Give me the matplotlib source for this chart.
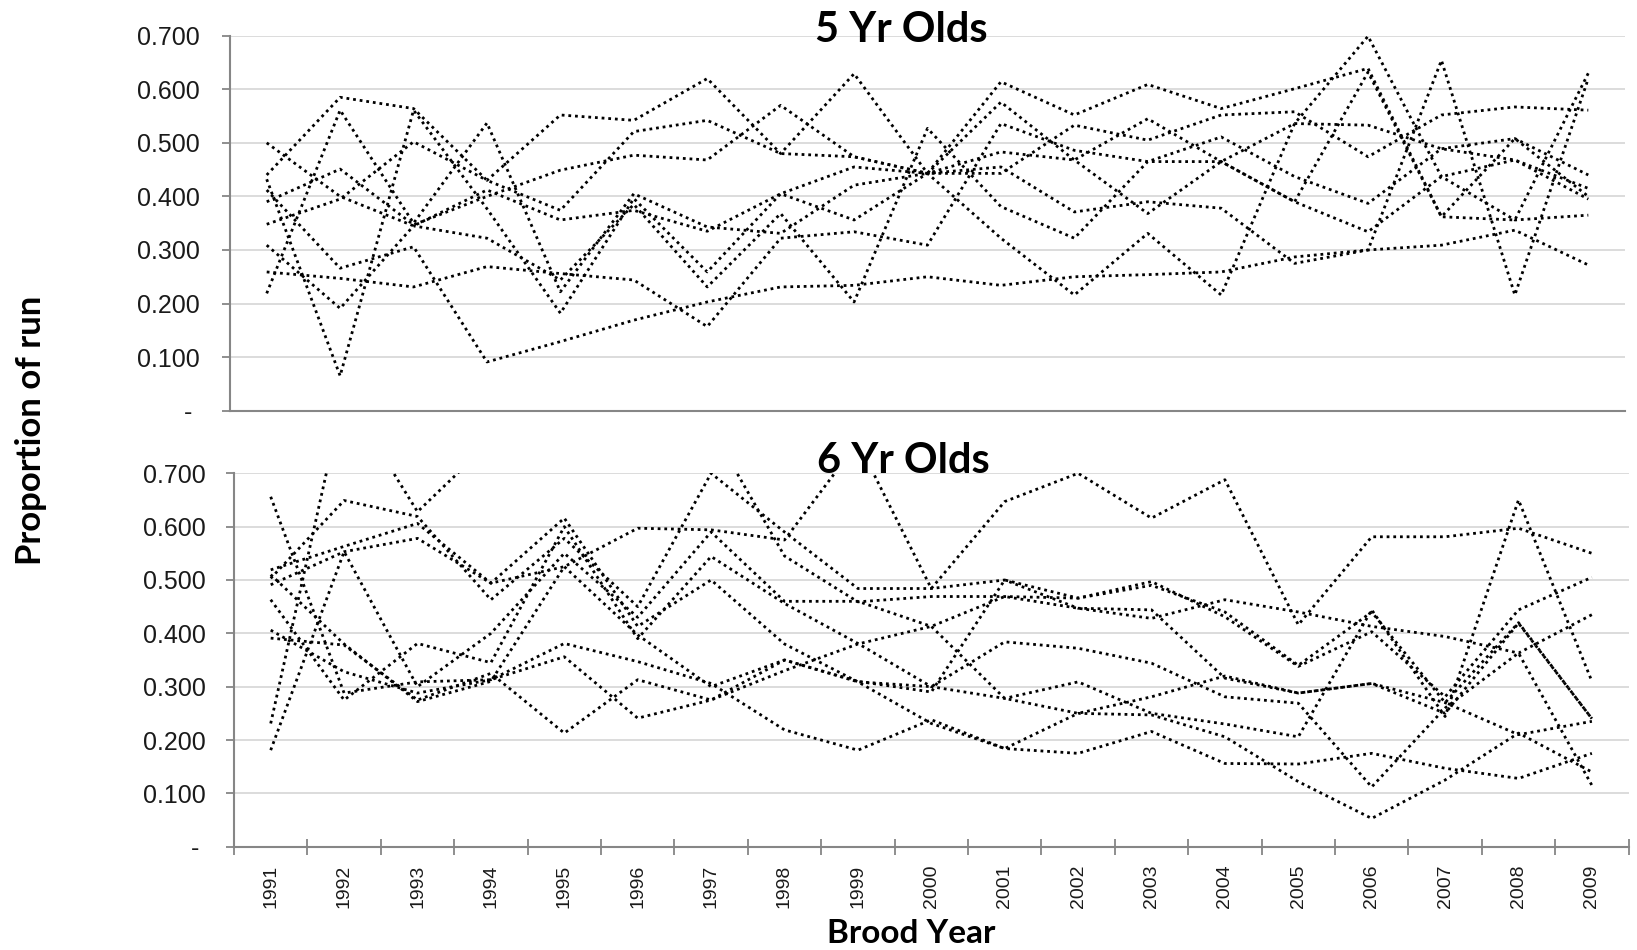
import numpy as np
import matplotlib
matplotlib.use("Agg")
import matplotlib.pyplot as plt
from matplotlib.ticker import FuncFormatter, FixedLocator

plt.rcParams['font.family'] = ['Liberation Sans', 'DejaVu Sans']

# ---------------------------------------------------------------- data
years = [str(y) for y in range(1991, 2010)]

# 5 year olds, proportion of run (one list per stock)
age5 = [
    [0.259, 0.247, 0.231, 0.269, 0.256, 0.244, 0.157, 0.322, 0.334, 0.309, 0.536, 0.486, 0.465, 0.511, 0.437, 0.387, 0.489, 0.508, 0.440],
    [0.432, 0.065, 0.561, 0.377, 0.182, 0.396, 0.259, 0.405, 0.356, 0.443, 0.483, 0.468, 0.545, 0.465, 0.390, 0.334, 0.437, 0.468, 0.395],
    [0.440, 0.585, 0.564, 0.430, 0.374, 0.521, 0.542, 0.480, 0.474, 0.443, 0.455, 0.371, 0.390, 0.378, 0.275, 0.300, 0.654, 0.216, 0.620],
    [0.219, 0.561, 0.350, 0.537, 0.222, 0.405, 0.343, 0.331, 0.421, 0.443, 0.614, 0.552, 0.609, 0.564, 0.601, 0.639, 0.362, 0.356, 0.630],
    [0.500, 0.400, 0.345, 0.412, 0.356, 0.374, 0.335, 0.405, 0.455, 0.443, 0.443, 0.533, 0.505, 0.552, 0.558, 0.474, 0.552, 0.567, 0.561],
    [0.390, 0.451, 0.347, 0.400, 0.449, 0.477, 0.468, 0.570, 0.474, 0.443, 0.576, 0.468, 0.368, 0.465, 0.536, 0.533, 0.489, 0.468, 0.415],
    [0.348, 0.395, 0.502, 0.430, 0.552, 0.542, 0.620, 0.480, 0.629, 0.443, 0.322, 0.216, 0.331, 0.216, 0.536, 0.699, 0.437, 0.356, 0.365],
    [0.309, 0.191, 0.345, 0.322, 0.244, 0.385, 0.231, 0.368, 0.203, 0.527, 0.381, 0.322, 0.465, 0.465, 0.390, 0.632, 0.362, 0.508, 0.400],
    [0.412, 0.266, 0.306, 0.091, 0.129, 0.169, 0.203, 0.231, 0.234, 0.250, 0.234, 0.250, 0.254, 0.259, 0.287, 0.300, 0.309, 0.337, 0.272],
]

# 6 year olds, proportion of run
age6 = [
    [0.519, 0.563, 0.606, 0.494, 0.525, 0.597, 0.594, 0.575, 0.758, 0.484, 0.647, 0.700, 0.616, 0.688, 0.416, 0.581, 0.581, 0.597, 0.550],
    [0.231, 0.850, 0.628, 0.760, 0.780, 0.780, 0.785, 0.545, 0.459, 0.469, 0.469, 0.466, 0.497, 0.431, 0.338, 0.403, 0.281, 0.444, 0.505],
    [0.656, 0.288, 0.309, 0.313, 0.356, 0.241, 0.275, 0.330, 0.380, 0.413, 0.469, 0.447, 0.428, 0.463, 0.440, 0.413, 0.394, 0.363, 0.435],
    [0.503, 0.649, 0.619, 0.463, 0.578, 0.450, 0.700, 0.590, 0.484, 0.484, 0.500, 0.447, 0.444, 0.316, 0.288, 0.306, 0.250, 0.419, 0.240],
    [0.491, 0.553, 0.578, 0.494, 0.616, 0.413, 0.500, 0.380, 0.309, 0.231, 0.184, 0.250, 0.247, 0.206, 0.122, 0.053, 0.125, 0.213, 0.140],
    [0.463, 0.275, 0.381, 0.345, 0.600, 0.390, 0.544, 0.456, 0.381, 0.300, 0.278, 0.309, 0.250, 0.230, 0.206, 0.444, 0.244, 0.650, 0.310],
    [0.406, 0.328, 0.288, 0.313, 0.381, 0.347, 0.306, 0.219, 0.181, 0.238, 0.184, 0.175, 0.216, 0.156, 0.155, 0.175, 0.147, 0.128, 0.175],
    [0.391, 0.378, 0.275, 0.325, 0.213, 0.313, 0.275, 0.350, 0.309, 0.300, 0.384, 0.372, 0.344, 0.281, 0.269, 0.112, 0.260, 0.363, 0.115],
    [0.181, 0.553, 0.300, 0.400, 0.550, 0.430, 0.590, 0.460, 0.460, 0.413, 0.278, 0.250, 0.281, 0.320, 0.288, 0.306, 0.270, 0.210, 0.235],
    [0.510, 0.380, 0.272, 0.310, 0.525, 0.397, 0.300, 0.350, 0.310, 0.290, 0.500, 0.466, 0.490, 0.440, 0.340, 0.440, 0.270, 0.420, 0.240],
]

yticks = [0.0, 0.1, 0.2, 0.3, 0.4, 0.5, 0.6, 0.7]

# ---------------------------------------------------------------- figure
W, H = 1637, 950
fig = plt.figure(figsize=(W / 100, H / 100), dpi=100)

axis_grey = '#868686'
grid_grey = '#d9d9d9'
x = np.arange(len(years))


def fmt(v, pos):
    return '- ' if abs(v) < 1e-9 else '%.3f' % v


def style(ax, pad):
    ax.set_xlim(-0.5, len(years) - 0.5)
    ax.set_ylim(0, 0.7)
    ax.yaxis.set_major_locator(FixedLocator(yticks))
    ax.yaxis.set_major_formatter(FuncFormatter(fmt))
    ax.grid(axis='y', color=grid_grey, lw=1.3, zorder=0)
    ax.set_axisbelow(True)
    for s in ['top', 'right']:
        ax.spines[s].set_visible(False)
    for s in ['left', 'bottom']:
        ax.spines[s].set_color(axis_grey)
        ax.spines[s].set_linewidth(1.5)
    ax.tick_params(axis='y', direction='out', length=6, width=1.3,
                   color=axis_grey, labelsize=18, labelcolor='#1a1a1a', pad=pad)


def draw(ax, series):
    for s in series:
        ax.plot(x, s, color='black', lw=2.0, linestyle=(0, (1, 1.4)),
                solid_capstyle='butt', zorder=3)


# top panel: 5 yr olds
ax1 = fig.add_axes([230 / W, 1 - 410.7 / H, 1395 / W, 375 / H])
style(ax1, 16)
draw(ax1, age5)
ax1.set_xticks([])

# bottom panel: 6 yr olds
ax2 = fig.add_axes([234 / W, 1 - 846.7 / H, 1394.6 / W, 373.4 / H])
style(ax2, 14)
draw(ax2, age6)
ax2.set_xticks(x)
ax2.set_xticklabels(years, rotation=90, fontsize=14, color='#1a1a1a')
ax2.tick_params(axis='x', which='major', length=0, pad=13)
ax2.set_xticks(np.arange(-0.5, len(years)), minor=True)
ax2.tick_params(axis='x', which='minor', direction='inout', length=12,
                width=1.3, color=axis_grey)

bold = dict(family=['Lato', 'DejaVu Sans'], weight='bold', color='black')
fig.text(901.5 / W, 1 - 41.7 / H, '5 Yr Olds', ha='center', va='baseline',
         fontsize=30, **bold)
fig.text(903.7 / W, 1 - 473.3 / H, '6 Yr Olds', ha='center', va='baseline',
         fontsize=30, **bold)
fig.text(911 / W, 1 - 942.7 / H, 'Brood Year', ha='center', va='baseline',
         fontsize=24, **bold)
fig.text(31 / W, 1 - 430 / H, 'Proportion of run', ha='center', va='center',
         rotation=90, fontsize=25, **bold)

fig.savefig('out.png', dpi=100)
